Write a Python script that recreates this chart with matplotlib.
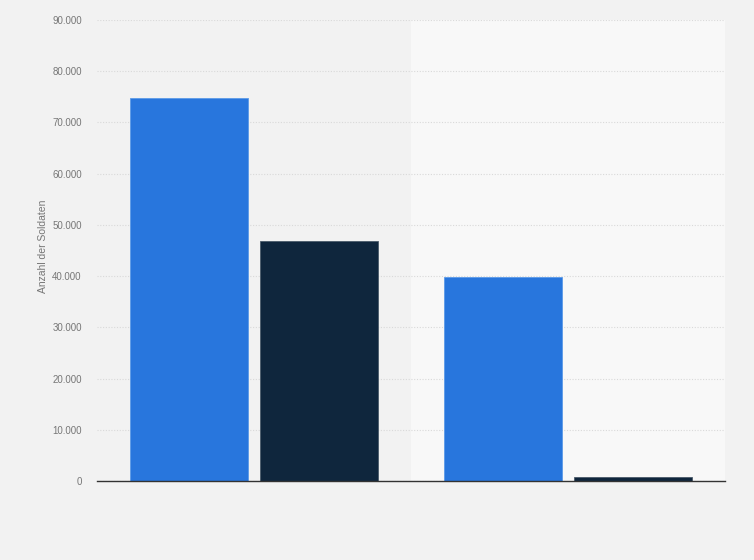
import matplotlib
matplotlib.use("Agg")
import matplotlib.pyplot as plt
import numpy as np
from matplotlib.ticker import FuncFormatter

plt.rcParams["font.family"] = ["Liberation Sans", "DejaVu Sans"]

# two groups, two series each (no category labels shown in the reference)
groups = ["", ""]
series_a = [74800, 39800]
series_b = [46900, 800]
yticks = [0, 10000, 20000, 30000, 40000, 50000, 60000, 70000, 80000, 90000]

BLUE = "#2876dd"
NAVY = "#0f263d"
BG = "#f2f2f2"
BAND = "#f8f8f8"

fig = plt.figure(figsize=(7.54, 5.6), dpi=100, facecolor=BG)
ax = fig.add_axes([97 / 754, 1 - 481 / 560, 628 / 754, 461 / 560])
ax.set_facecolor(BG)

x = np.arange(len(groups))
w = 0.375
off = 0.208
# alternating band behind second group
ax.axvspan(0.5, 1.5, color=BAND, zorder=0, lw=0)

ax.bar(x - off, series_a, width=w, color=BLUE, zorder=3,
       edgecolor="#5b9ae8", linewidth=0.6)
ax.bar(x + off, series_b, width=w, color=NAVY, zorder=3,
       edgecolor="#4a5a6a", linewidth=0.6)

ax.set_xlim(-0.5, 1.5)
ax.set_ylim(0, 90000)
ax.set_yticks(yticks)
ax.yaxis.set_major_formatter(FuncFormatter(lambda v, p: f"{int(v):,}".replace(",", ".")))
ax.set_xticks([])
ax.grid(axis="y", color="#d9d9d9", ls=(0, (1, 1.5)), lw=0.8, zorder=1)
ax.tick_params(axis="y", length=0, pad=11, labelsize=7, labelcolor="#777777")
for s in ["top", "right", "left"]:
    ax.spines[s].set_visible(False)
ax.spines["bottom"].set_color("#333333")
ax.spines["bottom"].set_linewidth(1.0)
ax.spines["bottom"].set_zorder(4)

ax.set_ylabel("Anzahl der Soldaten", fontsize=7.5, color="#777777")
ax.yaxis.set_label_coords(-0.078, 0.51)

fig.savefig("out.png", dpi=100, facecolor=BG)
